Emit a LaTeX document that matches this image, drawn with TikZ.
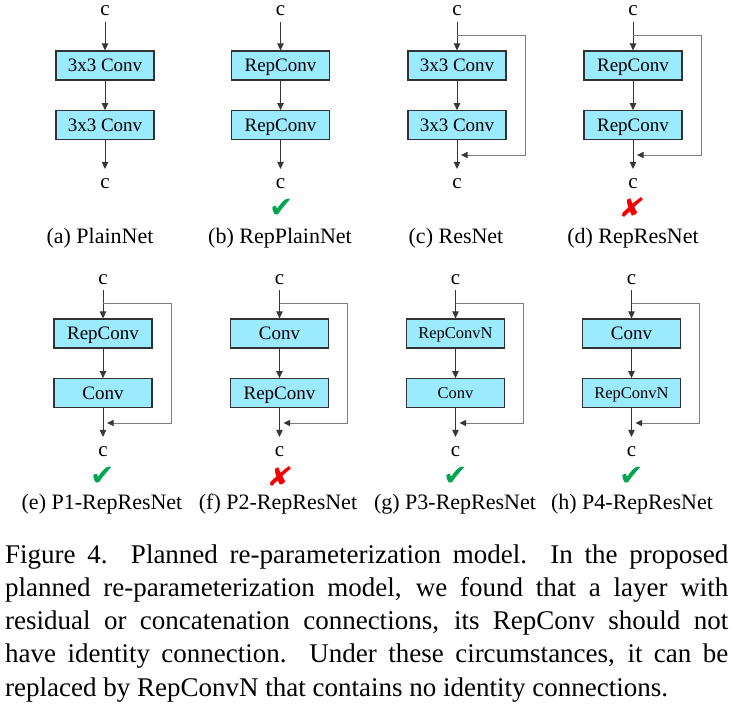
\documentclass[tikz,border=0pt]{standalone}
\usepackage{fontspec}
\setmainfont{Liberation Serif}
\newfontfamily\symfam{DejaVu Sans}
\usetikzlibrary{arrows.meta}
\definecolor{boxfill}{RGB}{155,234,253}
\definecolor{boxline}{RGB}{50,50,50}
\definecolor{arrline}{RGB}{55,55,55}
\definecolor{fbline}{RGB}{125,125,125}
\definecolor{okgreen}{RGB}{0,166,80}
\definecolor{badred}{RGB}{245,0,0}
\newcommand\fntbox{\fontsize{19}{22}\selectfont}
\newcommand\fntsmall{\fontsize{16.5}{19}\selectfont}
\newcommand\fntc{\fontsize{21}{24}\selectfont}
\newcommand\fntlab{\fontsize{22}{25}\selectfont}
\newcommand\fntcap{\fontsize{27}{33.25}\selectfont}
\newcommand\fntok{\symfam\fontsize{29}{31}\selectfont}
\newcommand\fntbad{\symfam\fontsize{27}{29}\selectfont}
\tikzset{
  blk/.style={draw=boxline, fill=boxfill, line width=1.2pt, minimum width=98pt,
    minimum height=29pt, inner sep=0pt, font=\fntbox, text height=14pt, text depth=1.4pt},
  blksmall/.style={blk, font=\fntsmall, text height=12pt, text depth=1.1pt},
  cnode/.style={anchor=base, inner sep=0pt, font=\fntc},
  arr/.style={draw=arrline, line width=0.9pt, -{Triangle[length=7pt,width=6.5pt]}},
  fbarr/.style={draw=fbline, line width=0.9pt, -{Triangle[length=6.5pt,width=6pt,color=arrline]}},
  labnode/.style={anchor=base, inner sep=0pt, font=\fntlab},
  okmark/.style={inner sep=0pt, text=okgreen, font=\fntok},
  badmark/.style={inner sep=0pt, text=badred, font=\fntbad, xslant=0.25},
}
% #1 id, #2 cx, #3 baseline of top c, #4 style1, #5 text1, #6 style2, #7 text2
\newcommand{\netcol}[7]{%
  \node[cnode] (#1cin) at (#2,#3) {c};
  \node[#4] (#1b1) at (#2,#3+49.5) {#5};
  \node[#6] (#1b2) at (#2,#3+109.2) {#7};
  \node[cnode] (#1cout) at (#2,#3+172) {c};
  \draw[arr, shorten <=6pt] (#1cin) -- (#1b1);
  \draw[arr] (#1b1) -- (#1b2);
  \draw[arr, shorten >=9pt] (#1b2) -- (#1cout);
}
% #1 id, #2 cx, #3 baseline of top c
\newcommand{\rescon}[3]{%
  \coordinate (#1j1) at (#2,#3+19);
  \coordinate (#1j2) at (#2,#3+139);
  \draw[fbarr] (#1j1) -- ++(68,0) |- ([xshift=4pt]#1j2);
}
\begin{document}
\begin{tikzpicture}[x=1pt,y=-1pt]
\useasboundingbox (0,0) rectangle (733,706);
% top row
\netcol{a}{105}{16}{blk}{3x3 Conv}{blk}{3x3 Conv}
\netcol{b}{280.5}{16}{blk}{RepConv}{blk}{RepConv}
\netcol{c}{457}{16}{blk}{3x3 Conv}{blk}{3x3 Conv}
\rescon{c}{457}{16}
\netcol{d}{633}{16}{blk}{RepConv}{blk}{RepConv}
\rescon{d}{633}{16}
% bottom row
\netcol{e}{103}{284}{blk}{RepConv}{blk}{Conv}
\rescon{e}{103}{284}
\netcol{f}{279.5}{284}{blk}{Conv}{blk}{RepConv}
\rescon{f}{279.5}{284}
\netcol{g}{455.5}{284}{blksmall}{RepConvN}{blksmall}{Conv}
\rescon{g}{455.5}{284}
\netcol{h}{631.5}{284}{blk}{Conv}{blksmall}{RepConvN}
\rescon{h}{631.5}{284}
% marks
\node[okmark] (mb) at (282,208) {✔};
\node[badmark] (md) at (632,208) {✘};
\node[okmark] (me) at (103,476.5) {✔};
\node[badmark] (mf) at (280,476.5) {✘};
\node[okmark] (mg) at (456,476.5) {✔};
\node[okmark] (mh) at (632,476.5) {✔};
% labels
\node[labnode] (la) at (100,243) {(a) PlainNet};
\node[labnode] (lb) at (280,243) {(b) RepPlainNet};
\node[labnode] (lc) at (456,243) {(c) ResNet};
\node[labnode] (ld) at (633,243) {(d) RepResNet};
\node[labnode] (le) at (102,509) {(e) P1-RepResNet};
\node[labnode] (lf) at (278,509) {(f) P2-RepResNet};
\node[labnode] (lg) at (455,509) {(g) P3-RepResNet};
\node[labnode] (lh) at (632,509) {(h) P4-RepResNet};
% caption
\node[anchor=base west, inner sep=0pt] (cap) at (5,563) {\parbox[t]{723pt}{\fntcap
Figure 4.\ \ Planned re-parameterization model.\ \ In the proposed\linebreak
planned re-parameterization model, we found that a layer with\linebreak
residual or concatenation connections, its RepConv should not\linebreak
have identity connection.\ \ Under these circumstances, it can be\linebreak
replaced by RepConvN that contains no identity connections.}};
\end{tikzpicture}
\end{document}
